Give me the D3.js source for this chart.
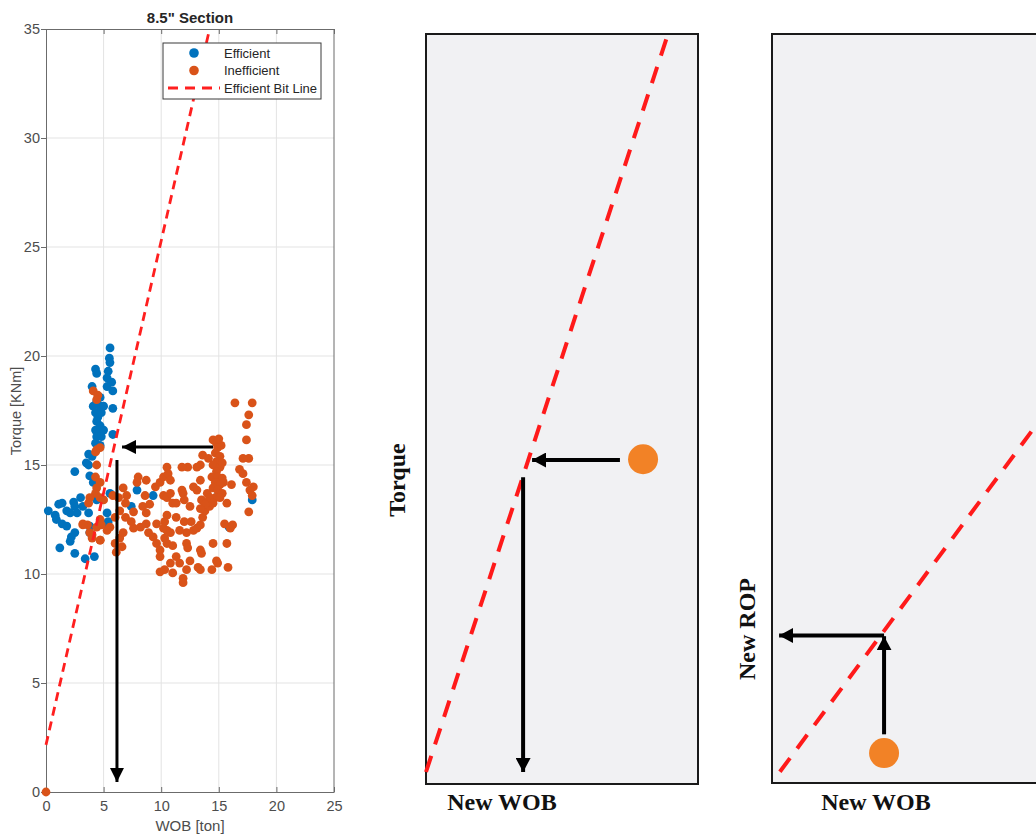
<!DOCTYPE html>
<html>
<head>
<meta charset="utf-8">
<script src="https://cdn.jsdelivr.net/npm/d3@7"></script>
<style>
  html, body { margin: 0; padding: 0; background: #fff; }
  svg { display: block; }
</style>
</head>
<body>
<svg id="chart" width="1036" height="834"></svg>
<script>
// ---- Scatter data: 8.5" section, [WOB (ton), Torque (kNm)] ----
const efficient = [
  [5.56,20.37],[5.5,19.9],[5.55,19.7],[5.4,19.3],[4.3,19.4],[4.4,19.2],[5.3,19.0],[5.7,18.8],
  [5.8,18.4],[4.0,18.6],[5.3,18.6],[4.7,18.1],[4.4,17.9],[4.1,17.7],[4.7,17.7],[5.0,17.7],
  [5.8,17.6],[4.3,17.4],[4.5,17.2],[4.8,17.4],[4.4,17.0],[4.7,16.8],[4.3,16.6],[4.7,16.6],
  [5.0,16.6],[4.4,16.3],[4.8,16.3],[5.8,16.4],[4.3,16.0],[4.7,15.9],[3.7,15.5],[4.0,15.4],
  [3.5,15.1],[3.7,15.0],[3.8,14.5],[2.5,14.7],[4.1,14.2],[5.55,13.7],[3.0,13.5],[2.4,13.3],
  [2.5,13.1],[1.8,12.9],[1.1,13.2],[1.4,13.25],[0.2,12.9],[0.8,12.7],[0.9,12.5],[1.4,12.3],
  [1.8,12.2],[2.1,12.8],[2.7,12.8],[3.2,13.1],[5.3,12.8],[5.4,12.4],[5.1,12.3],[2.5,11.9],
  [2.2,11.7],[2.1,11.5],[1.2,11.2],[2.5,10.95],[3.4,10.7],[4.2,10.8],[3.8,11.9],[7.4,13.1],
  [7.9,13.85],[9.3,13.6],[3.7,12.8],[4.4,13.4],[17.9,13.4],[15.0,13.7],[15.9,12.15],[3.8,12.2]
];

const inefficient = [
  [0,0],
  [4.1,18.4],[4.5,18.2],[4.4,18.0],[4.4,15.7],[4.7,15.8],[4.3,15.6],[4.4,15.0],[4.3,14.45],
  [4.7,14.2],[4.4,13.95],[4.3,13.7],[3.8,13.5],[3.7,13.25],[4.7,13.5],[5.0,13.4],[5.8,13.6],
  [6.3,13.5],[6.7,13.95],[6.9,13.25],[6.4,12.9],[6.0,12.6],[5.55,12.15],[5.3,12.0],[4.7,12.5],
  [4.4,12.15],[4.0,11.8],[4.7,11.55],[3.6,12.25],[3.2,12.3],[6.0,11.4],[6.4,11.65],[6.1,11.0],
  [6.9,12.6],[7.6,12.85],[7.6,12.1],[8.2,12.15],[8.7,12.3],[7.9,14.2],[8.0,14.45],[8.6,13.6],
  [8.4,13.1],[8.7,12.8],[8.9,11.9],[9.3,11.7],[9.6,12.3],[9.6,11.4],[9.9,11.1],[9.9,10.8],
  [9.9,10.1],[10.3,10.2],[9.5,14.0],[9.9,14.2],[10.2,14.45],[10.5,14.9],[10.6,14.6],[10.8,14.3],
  [10.2,13.6],[10.5,13.5],[10.8,13.7],[11.0,13.25],[11.3,13.25],[11.8,13.85],[11.9,13.7],
  [10.5,12.7],[10.3,12.4],[10.2,12.1],[10.5,12.0],[10.8,11.9],[10.3,11.65],[10.5,11.4],
  [11.0,11.3],[11.3,10.8],[10.8,10.5],[11.9,9.8],[11.9,9.6],[12.0,12.4],[12.2,11.9],[12.2,11.4],
  [12.3,11.2],[12.5,10.6],[12.2,10.2],[12.3,14.9],[13.4,15.0],[13.6,15.45],[14.1,15.3],
  [13.4,14.3],[13.1,13.85],[13.5,13.4],[14.0,13.7],[12.8,12.0],[13.1,12.1],[13.4,12.25],
  [13.6,12.6],[13.8,12.9],[14.2,13.1],[13.4,11.1],[13.5,10.95],[13.2,10.3],[13.4,10.2],
  [14.5,11.4],[14.8,10.6],[14.9,10.5],[15.8,10.3],[15.7,11.4],[15.5,12.3],[16.0,12.1],
  [15.7,13.25],[15.4,14.2],[16.1,14.1],[16.8,14.8],[17.1,14.6],[17.4,14.2],[17.7,13.85],
  [18.0,14.0],[17.9,13.6],[17.6,12.85],[16.4,17.85],[17.9,17.85],[17.6,17.3],[17.4,16.85],
  [17.4,16.15],[17.6,15.3],[17.1,15.3],[14.5,16.15],[14.8,16.0],[14.9,15.8],[14.7,15.55],
  [15.1,15.4],[14.8,15.15],[14.5,15.0],[15.1,14.9],[14.8,14.7],[14.4,14.45],[14.9,14.45],
  [15.3,14.4],[14.7,14.2],[15.1,14.1],[14.5,13.95],[14.9,13.85],[15.3,13.7],[14.7,13.5],
  [14.2,13.5],[14.0,13.3],[15.1,13.5],[14.5,13.25],[13.8,13.2],[13.4,13.0],[12.8,14.0],
  [13.1,14.9],[11.8,14.9],[8.7,14.3],[6.7,11.9],[6.6,11.25],[12.0,13.4],[11.3,12.6],
  [12.5,13.1],[11.0,10.05],[11.6,10.5],[14.4,10.2],[16.2,12.25],[3.2,12.25],[3.8,11.9],
  [4.0,11.65],[4.7,11.55],[4.8,12.25],[7.0,13.6],[7.4,12.4],[9.0,13.2],[12.6,12.4],
  [11.6,12.0],[15.2,15.9],[15.0,16.2],[15.3,15.1]
];

// Efficient bit line: torque = intercept + slope * WOB
const bitLine = [[0, 2.16], [14.2, 35]];

// Guide arrows on the scatter, [WOB, Torque] from tail to tip
const arrowAcross = [[14.5, 15.83], [6.6, 15.83]];
const arrowDown = [[6.16, 15.23], [6.16, 0.46]];

const xTicks = [0, 5, 10, 15, 20, 25];
const yTicks = [0, 5, 10, 15, 20, 25, 30, 35];

const legendItems = [
  { label: "Efficient", type: "dot", color: "#0072BD" },
  { label: "Inefficient", type: "dot", color: "#D95319" },
  { label: "Efficient Bit Line", type: "dash", color: "#FF1F1F" }
];

// ---- Schematic panels, unit coordinates inside each frame ----
const torqueSketch = {
  line: [[0, 0.016], [0.886, 0.996]],
  point: [0.798, 0.433],
  arrows: [
    [[0.713, 0.432], [0.390, 0.432]],
    [[0.357, 0.409], [0.357, 0.016]]
  ],
  xLabel: "New WOB",
  yLabel: "Torque"
};
const ropSketch = {
  line: [[0.029, 0.015], [1.0, 0.492]],
  point: [0.412, 0.040],
  arrows: [
    [[0.412, 0.065], [0.412, 0.196]],
    [[0.412, 0.197], [0.026, 0.197]]
  ],
  xLabel: "New WOB",
  yLabel: "New ROP"
};

const svg = d3.select("#chart");

// Arrowheads
const defs = svg.append("defs");
function arrowMarker(id, len, half) {
  defs.append("marker")
    .attr("id", id)
    .attr("markerUnits", "userSpaceOnUse")
    .attr("viewBox", `0 ${-half} ${len} ${2 * half}`)
    .attr("refX", len).attr("refY", 0)
    .attr("markerWidth", len).attr("markerHeight", 2 * half)
    .attr("orient", "auto")
    .append("path")
    .attr("d", `M0,${-half}L${len},0L0,${half}Z`)
    .attr("fill", "#000");
}
arrowMarker("head-small", 14, 7);
arrowMarker("head-large", 14, 7.5);

// ================= Scatter chart =================
const plot = { left: 46, right: 334, top: 29, bottom: 792 };
const x = d3.scaleLinear().domain([0, 25]).range([plot.left, plot.right]);
const y = d3.scaleLinear().domain([0, 35]).range([plot.bottom, plot.top]);
const axisColor = "#6b6b6b";
const textColor = "#4d4d4d";
const sansFont = "'Liberation Sans', Arial, sans-serif";

const g = svg.append("g");

// grid
g.append("g").selectAll("line").data(xTicks.slice(1, -1)).join("line")
  .attr("x1", d => x(d)).attr("x2", d => x(d))
  .attr("y1", plot.top).attr("y2", plot.bottom)
  .attr("stroke", "#e3e3e3").attr("stroke-width", 1);
g.append("g").selectAll("line").data(yTicks.slice(1, -1)).join("line")
  .attr("x1", plot.left).attr("x2", plot.right)
  .attr("y1", d => y(d)).attr("y2", d => y(d))
  .attr("stroke", "#e3e3e3").attr("stroke-width", 1);

// axes
const xAxis = d3.axisBottom(x).tickValues(xTicks).tickSizeInner(-5).tickSizeOuter(0).tickPadding(9);
const yAxis = d3.axisLeft(y).tickValues(yTicks).tickSizeInner(5).tickSizeOuter(0).tickPadding(1);
const xTop = d3.axisTop(x).tickValues(xTicks).tickSizeInner(-5).tickSizeOuter(0).tickFormat("");

function styleAxis(sel) {
  sel.select(".domain").attr("stroke", axisColor);
  sel.selectAll(".tick line").attr("stroke", axisColor);
  sel.selectAll(".tick text").attr("fill", textColor)
    .style("font-family", sansFont).style("font-size", "14.5px");
}
g.append("g").attr("transform", `translate(0,${plot.bottom})`).call(xAxis).call(styleAxis);
g.append("g").attr("transform", `translate(${plot.left},0)`).call(yAxis).call(styleAxis);
g.append("g").attr("transform", `translate(0,${plot.top})`).call(xTop).call(styleAxis);
g.append("line")
  .attr("x1", plot.right).attr("x2", plot.right)
  .attr("y1", plot.top).attr("y2", plot.bottom)
  .attr("stroke", axisColor);

// clip for marks
defs.append("clipPath").attr("id", "plot-clip").append("rect")
  .attr("x", plot.left - 6).attr("y", plot.top)
  .attr("width", plot.right - plot.left + 6).attr("height", plot.bottom - plot.top + 6);

const marks = g.append("g").attr("clip-path", "url(#plot-clip)");

marks.append("g").selectAll("circle").data(efficient).join("circle")
  .attr("cx", d => x(d[0])).attr("cy", d => y(d[1])).attr("r", 4.4)
  .attr("fill", "#0072BD");
marks.append("g").selectAll("circle").data(inefficient).join("circle")
  .attr("cx", d => x(d[0])).attr("cy", d => y(d[1])).attr("r", 4.4)
  .attr("fill", "#D95319");

const line = d3.line().x(d => x(d[0])).y(d => y(d[1]));
marks.append("path").datum(bitLine)
  .attr("d", line)
  .attr("fill", "none").attr("stroke", "#FF1F1F")
  .attr("stroke-width", 2.8).attr("stroke-dasharray", "9,6");

g.append("g").selectAll("path").data([arrowAcross, arrowDown]).join("path")
  .attr("d", line)
  .attr("fill", "none").attr("stroke", "#000").attr("stroke-width", 3)
  .attr("marker-end", "url(#head-small)");

// title and labels
g.append("text").attr("x", 190).attr("y", 23).attr("text-anchor", "middle")
  .style("font-family", sansFont).style("font-size", "15px").style("font-weight", "bold")
  .attr("fill", "#262626").text("8.5\" Section");
g.append("text").attr("x", 190).attr("y", 831).attr("text-anchor", "middle")
  .style("font-family", sansFont).style("font-size", "15px")
  .attr("fill", textColor).text("WOB [ton]");
g.append("text").attr("transform", "translate(21,411) rotate(-90)").attr("text-anchor", "middle")
  .style("font-family", sansFont).style("font-size", "14.5px")
  .attr("fill", textColor).text("Torque [KNm]");

// legend
const lg = g.append("g");
lg.append("rect").attr("x", 163).attr("y", 43).attr("width", 158).attr("height", 56)
  .attr("fill", "#fff").attr("stroke", "#3a3a3a").attr("stroke-width", 1);
const rows = lg.selectAll("g.item").data(legendItems).join("g")
  .attr("class", "item")
  .attr("transform", (d, i) => `translate(0,${53 + i * 17.5})`);
rows.filter(d => d.type === "dot").append("circle")
  .attr("cx", 194).attr("cy", 0).attr("r", 4.8).attr("fill", d => d.color);
rows.filter(d => d.type === "dash").append("line")
  .attr("x1", 168).attr("x2", 220).attr("y1", 0).attr("y2", 0)
  .attr("stroke", d => d.color).attr("stroke-width", 2.8).attr("stroke-dasharray", "10,7");
rows.append("text").attr("x", 224).attr("y", 4.5)
  .style("font-family", sansFont).style("font-size", "13px")
  .attr("fill", "#262626").text(d => d.label);

// ================= Schematic panels =================
const serifFont = "'Liberation Serif', 'Times New Roman', serif";

function drawSketch(cfg, box, xLabelPos, yLabelPos) {
  const sx = d3.scaleLinear().domain([0, 1]).range([box.x0, box.x1]);
  const sy = d3.scaleLinear().domain([0, 1]).range([box.y1, box.y0]);
  const p = svg.append("g");
  p.append("rect")
    .attr("x", sx(0)).attr("y", sy(1))
    .attr("width", sx(1) - sx(0)).attr("height", sy(0) - sy(1))
    .attr("fill", "#f1f1f3").attr("stroke", "#1a1a1a").attr("stroke-width", 2);
  const ln = d3.line().x(d => sx(d[0])).y(d => sy(d[1]));
  p.append("path").datum(cfg.line).attr("d", ln)
    .attr("fill", "none").attr("stroke", "#FF1A1A")
    .attr("stroke-width", 4).attr("stroke-dasharray", "17,12");
  p.append("g").selectAll("path").data(cfg.arrows).join("path")
    .attr("d", ln).attr("fill", "none").attr("stroke", "#000")
    .attr("stroke-width", 4).attr("marker-end", "url(#head-large)");
  p.append("circle").attr("cx", sx(cfg.point[0])).attr("cy", sy(cfg.point[1]))
    .attr("r", 15).attr("fill", "#F28226");
  p.append("text").attr("x", xLabelPos[0]).attr("y", xLabelPos[1]).attr("text-anchor", "middle")
    .style("font-family", serifFont).style("font-size", "24px").style("font-weight", "bold")
    .attr("fill", "#111").text(cfg.xLabel);
  p.append("text")
    .attr("transform", `translate(${yLabelPos[0]},${yLabelPos[1]}) rotate(-90)`)
    .attr("text-anchor", "middle")
    .style("font-family", serifFont).style("font-size", "24px").style("font-weight", "bold")
    .attr("fill", "#111").text(cfg.yLabel);
}

drawSketch(torqueSketch, { x0: 426, x1: 698, y0: 34, y1: 784 }, [502, 810], [405, 480]);
drawSketch(ropSketch, { x0: 772, x1: 1044, y0: 34, y1: 783 }, [876, 810], [755, 629]);
</script>
</body>
</html>
